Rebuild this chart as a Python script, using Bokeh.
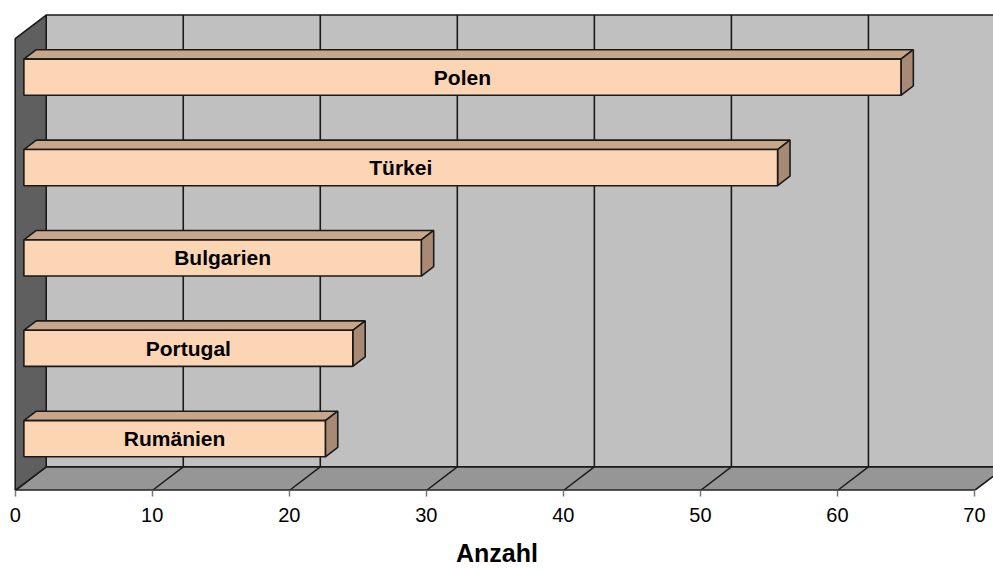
from bokeh.plotting import figure
from bokeh.models import FixedTicker, ColumnDataSource, Range1d
from bokeh.core.properties import value
from bokeh.embed import file_html
from bokeh.resources import INLINE

# ---- data ----
countries = ["Rumänien", "Portugal", "Bulgarien", "Türkei", "Polen"]
counts = [22, 24, 29, 55, 64]
x_ticks = [0, 10, 20, 30, 40, 50, 60, 70]
x_title = "Anzahl"

# ---- 3D geometry (style constants) ----
XMAX = x_ticks[-1]
NCAT = len(countries)
PX_PER_UNIT = 13.704
PX_PER_CAT = 90.0
X0_PX = 14.7                 # pixel of value 0 on the front plane
FRAME_BOTTOM_PX = 488.0
WIDTH, HEIGHT = 993, 569
DX = 31.0 / PX_PER_UNIT      # full depth offset in value units
DY = 23.5 / PX_PER_CAT       # full depth offset in category units
F1, F2 = 0.28, 0.68          # bar front/back depth fractions
H = 0.2                      # bar half height (category units)

FONT = "Liberation Sans"
EDGE = "#1a1a1a"

p = figure(width=WIDTH, height=HEIGHT,
           x_range=Range1d(-X0_PX / PX_PER_UNIT, (WIDTH - X0_PX) / PX_PER_UNIT),
           y_range=Range1d(0, FRAME_BOTTOM_PX / PX_PER_CAT),
           output_backend="svg", toolbar_location=None, y_axis_location=None,
           min_border=0, min_border_left=0, min_border_right=0, min_border_top=0,
           min_border_bottom=0,
           outline_line_color=None, background_fill_color="white",
           border_fill_color="white")
p.grid.visible = False

# back wall
p.quad(left=DX, right=XMAX + DX, bottom=DY, top=NCAT + DY,
       fill_color="#C0C0C0", line_color=EDGE, line_width=1.6)
# back wall gridlines
gx = [t + DX for t in x_ticks[1:]]
p.segment(x0=gx, y0=[DY] * len(gx), x1=gx, y1=[NCAT + DY] * len(gx),
          line_color=EDGE, line_width=1.6)

# floor
p.patch([0, XMAX, XMAX + DX, DX], [0, 0, DY, DY],
        fill_color="#969696", line_color=EDGE, line_width=1.6)
fx = x_ticks[1:-1]
p.segment(x0=fx, y0=[0] * len(fx), x1=[t + DX for t in fx], y1=[DY] * len(fx),
          line_color=EDGE, line_width=1.4)
# floor front edge
p.segment(x0=[0], y0=[0], x1=[XMAX], y1=[0], line_color="#333333", line_width=2.5)

# left wall
p.patch([0, 0, DX, DX], [0, NCAT, NCAT + DY, DY],
        fill_color="#5F5F5F", line_color=EDGE, line_width=1.6)

# bars
yc = [i + 0.5 for i in range(NCAT)]
front = ColumnDataSource(dict(
    left=[F1 * DX] * NCAT,
    right=[v + F1 * DX for v in counts],
    bottom=[c - H + F1 * DY for c in yc],
    top=[c + H + F1 * DY for c in yc],
))
top_xs = [[F1 * DX, v + F1 * DX, v + F2 * DX, F2 * DX] for v in counts]
top_ys = [[c + H + F1 * DY, c + H + F1 * DY, c + H + F2 * DY, c + H + F2 * DY] for c in yc]
side_xs = [[v + F1 * DX, v + F1 * DX, v + F2 * DX, v + F2 * DX] for v in counts]
side_ys = [[c - H + F1 * DY, c + H + F1 * DY, c + H + F2 * DY, c - H + F2 * DY] for c in yc]

p.patches(top_xs, top_ys, fill_color="#C8A68A", line_color=EDGE, line_width=1.6)
p.patches(side_xs, side_ys, fill_color="#A88A74", line_color=EDGE, line_width=1.6)
p.quad(left="left", right="right", bottom="bottom", top="top", source=front,
       fill_color="#FCD5B4", line_color=EDGE, line_width=1.6)

labels = ColumnDataSource(dict(
    x=[v / 2 + F1 * DX for v in counts],
    y=[c + F1 * DY for c in yc],
    t=countries,
))
p.text(x="x", y="y", text="t", source=labels, text_align="center",
       text_baseline="middle", text_font=value(FONT), text_font_style="bold",
       text_font_size="21px", text_color="black")

# x axis
ax = p.xaxis[0]
ax.ticker = FixedTicker(ticks=x_ticks)
ax.axis_line_color = None
ax.major_tick_in = 0
ax.major_tick_out = 6
ax.major_tick_line_color = "#777777"
ax.major_tick_line_width = 1.5
ax.minor_tick_line_color = None
ax.major_label_standoff = 11
ax.major_label_text_font = FONT
ax.major_label_text_font_size = "20px"
ax.major_label_text_color = "black"
ax.axis_label = x_title
ax.axis_label_text_font = FONT
ax.axis_label_text_font_size = "25px"
ax.axis_label_text_font_style = "bold"
ax.axis_label_text_color = "black"
ax.axis_label_standoff = 14

open("out.html", "w").write(file_html(p, INLINE))
